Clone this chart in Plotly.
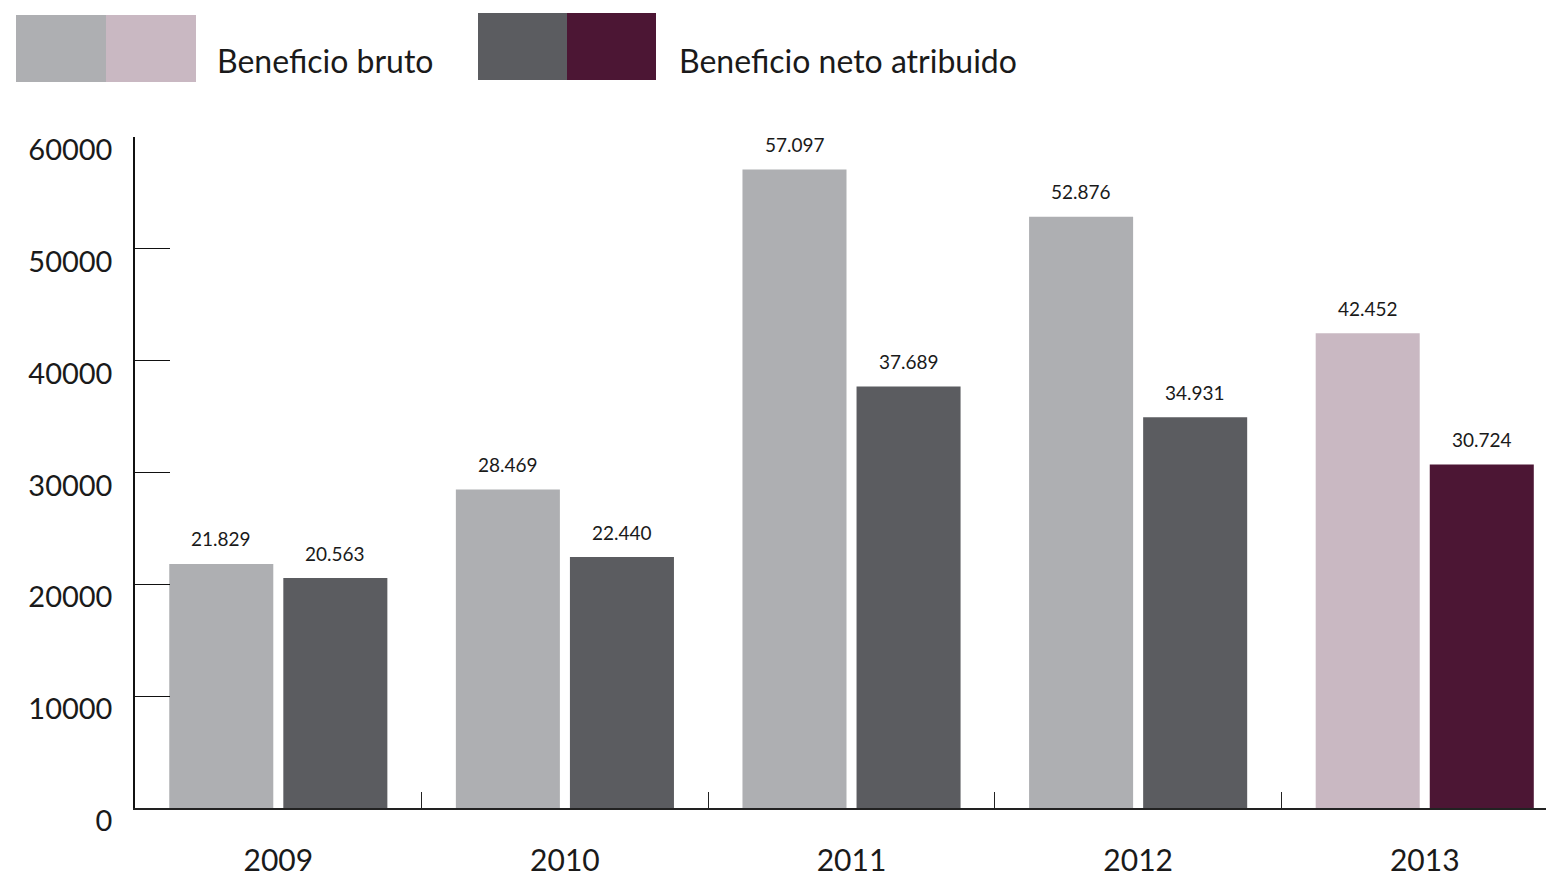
import plotly.graph_objects as go

years = ["2009", "2010", "2011", "2012", "2013"]
beneficio_bruto = [21829, 28469, 57097, 52876, 42452]
beneficio_neto = [20563, 22440, 37689, 34931, 30724]
y_ticks = [0, 10000, 20000, 30000, 40000, 50000, 60000]

gris_claro = "#AEAFB2"
rosa = "#C9B8C2"
gris_oscuro = "#5B5C60"
morado = "#4C1634"
texto = "#1a1a1a"
FONT = "Lato, 'Open Sans', sans-serif"

colors_bruto = [gris_claro] * 4 + [rosa]
colors_neto = [gris_oscuro] * 4 + [morado]

fig = go.Figure()
fig.add_trace(go.Bar(x=years, y=beneficio_bruto, name="Beneficio bruto",
                     marker=dict(color=colors_bruto, line=dict(width=0))))
fig.add_trace(go.Bar(x=years, y=beneficio_neto, name="Beneficio neto atribuido",
                     marker=dict(color=colors_neto, line=dict(width=0))))

def fmt(v):
    return f"{v:,}".replace(",", ".")

annotations = []
for i, (vb, vn) in enumerate(zip(beneficio_bruto, beneficio_neto)):
    annotations.append(dict(x=i, y=vb, xref="x", yref="y", text=fmt(vb), showarrow=False,
                            xshift=-57, yshift=25, yanchor="middle",
                            font=dict(family=FONT, size=19, color=texto)))
    annotations.append(dict(x=i, y=vn, xref="x", yref="y", text=fmt(vn), showarrow=False,
                            xshift=57, yshift=25, yanchor="middle",
                            font=dict(family=FONT, size=19, color=texto)))

# legend texts
annotations.append(dict(x=0, y=1, xref="paper", yref="paper", text="Beneficio bruto",
                        showarrow=False, xanchor="left", yanchor="middle", xshift=80, yshift=77,
                        font=dict(family=FONT, size=32, color=texto)))
annotations.append(dict(x=0, y=1, xref="paper", yref="paper", text="Beneficio neto atribuido",
                        showarrow=False, xanchor="left", yanchor="middle", xshift=542, yshift=77,
                        font=dict(family=FONT, size=32, color=texto)))

def swatch(x0, x1, y0, y1, color):
    return dict(type="rect", xref="paper", yref="paper", xsizemode="pixel", ysizemode="pixel",
                xanchor=0, yanchor=1, x0=x0, x1=x1, y0=y0, y1=y1,
                fillcolor=color, line=dict(width=0), layer="above")

shapes = [
    swatch(-119, -29, 55, 122, gris_claro),
    swatch(-29, 61, 55, 122, rosa),
    swatch(343, 432, 57, 124, gris_oscuro),
    swatch(432, 521, 57, 124, morado),
]

# page body has an 8px margin, so the figure is 8px smaller on each axis
fig.update_layout(
    width=1546, height=869,
    margin=dict(l=127, r=0, t=129, b=58),
    paper_bgcolor="white", plot_bgcolor="white",
    barmode="group", bargap=0.204, bargroupgap=0.088,
    showlegend=False,
    annotations=annotations, shapes=shapes,
    font=dict(family=FONT, color=texto),
    xaxis=dict(type="category", range=[-0.5, 4.451], showgrid=False, zeroline=False,
               showline=True, linecolor="#222222", linewidth=2,
               ticks="inside", tickson="boundaries", ticklen=16, tickcolor="#222222", tickwidth=1.2,
               tickfont=dict(family=FONT, size=30, color=texto), ticklabelstandoff=25),
    yaxis=dict(range=[0, 60000], tickvals=y_ticks, ticktext=[str(v) for v in y_ticks],
               showgrid=False, zeroline=False, showline=True, linecolor="#111111", linewidth=1.5,
               ticks="inside", ticklen=35, tickcolor="#111111", tickwidth=1.2,
               tickfont=dict(family=FONT, size=29, color=texto), ticklabelshift=13,
               ticklabelstandoff=15),
)

fig.write_html("out.html")
